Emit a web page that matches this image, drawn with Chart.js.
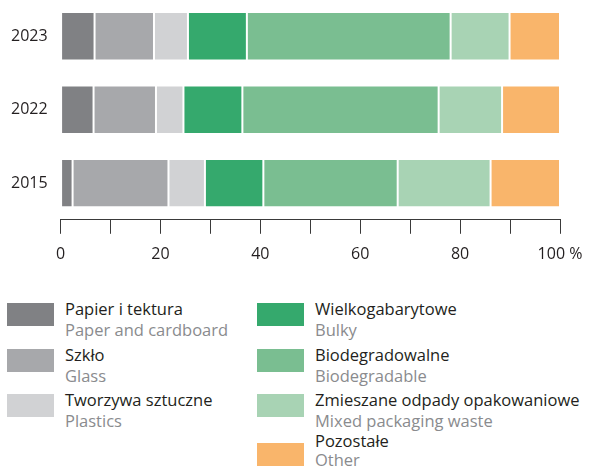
<!DOCTYPE html>
<html>
<head>
<meta charset="utf-8">
<script src="https://cdn.jsdelivr.net/npm/chart.js@4.4.1/dist/chart.umd.min.js"></script>
<style>
  body { margin: 0; background: #fff; font-family: "Open Sans", sans-serif; overflow: hidden; }
  #wrap { position: relative; width: 595px; height: 469px; overflow: hidden; }
  #chartBox { position: absolute; left: 0; top: -10px; width: 595px; height: 285px; }
  .item { position: absolute; }
  .sw { position: absolute; left: 0; top: 0; width: 47px; height: 23px; }
  .txt { position: absolute; left: 58px; font-size: 16.5px; white-space: nowrap; }
  .pl { color: #231f20; }
  .en { color: #8a8b8e; }
</style>
</head>
<body>
<div id="wrap">
  <div id="chartBox"><canvas id="myChart"></canvas></div>
  <div id="legend"></div>
</div>
<script>
const years = ['2023', '2022', '2015'];
const namesPl = ['Papier i tektura', 'Szkło', 'Tworzywa sztuczne', 'Wielkogabarytowe', 'Biodegradowalne', 'Zmieszane odpady opakowaniowe', 'Pozostałe'];
const namesEn = ['Paper and cardboard', 'Glass', 'Plastics', 'Bulky', 'Biodegradable', 'Mixed packaging waste', 'Other'];
const colors = ['#808184', '#a7a8ab', '#d1d2d4', '#35a96d', '#7abe91', '#a8d3b4', '#f9b56b'];

// shares in %, order: 2023, 2022, 2015
const paper = [6.8, 6.6, 2.4];
const glass = [11.9, 12.5, 19.2];
const plastics = [6.8, 5.5, 7.3];
const bulky = [11.8, 11.8, 11.7];
const bio = [40.8, 39.3, 26.9];
const mixed = [11.8, 12.7, 18.6];
const other = [10.1, 11.6, 13.9];
const xTicks = [0, 20, 40, 60, 80, 100];

const series = [paper, glass, plastics, bulky, bio, mixed, other];

const ctx = document.getElementById('myChart').getContext('2d');
const myChart = new Chart(ctx, {
  type: 'bar',
  data: {
    labels: years,
    datasets: series.map((d, i) => ({
      label: namesPl[i],
      data: d,
      backgroundColor: colors[i],
      borderColor: 'rgba(255,255,255,0.55)',
      borderWidth: 1,
      borderSkipped: false
    }))
  },
  options: {
    indexAxis: 'y',
    responsive: true,
    maintainAspectRatio: false,
    animation: false,
    layout: { padding: { left: 11, right: 35, top: 0, bottom: 0 } },
    plugins: { legend: { display: false }, tooltip: { enabled: false } },
    datasets: { bar: { categoryPercentage: 1, barPercentage: 0.66 } },
    scales: {
      x: {
        stacked: true,
        min: 0,
        max: 100,
        grid: { drawOnChartArea: false, drawTicks: true, tickLength: 14, color: '#3a3a3a', lineWidth: 1 },
        border: { display: true, color: '#3a3a3a', width: 1 },
        ticks: {
          stepSize: 10,
          autoSkip: false,
          maxRotation: 0,
          padding: 11,
          color: '#231f20',
          font: { family: '"Open Sans", sans-serif', size: 16 },
          callback: v => xTicks.includes(v) ? (v === 100 ? '100 %' : String(v)) : ''
        }
      },
      y: {
        stacked: true,
        grid: { display: false, drawTicks: true, tickLength: 13 },
        border: { display: false },
        ticks: {
          padding: 0,
          color: '#231f20',
          font: { family: '"Open Sans", sans-serif', size: 16 }
        }
      }
    }
  }
});

// legend: [left, top of swatch, text offset, line height]
const legendPos = [
  [7, 303, -5, 21], [7, 349, -5, 21], [7, 394, -5, 21],
  [257, 303, -5, 21], [257, 349, -5, 21], [257, 394, -5, 21], [257, 443, -12, 19]
];
const legend = document.getElementById('legend');
namesPl.forEach((n, i) => {
  const p = legendPos[i];
  const it = document.createElement('div');
  it.className = 'item';
  it.style.left = p[0] + 'px';
  it.style.top = p[1] + 'px';
  it.innerHTML = '<div class="sw" style="background:' + colors[i] + '"></div>' +
    '<div class="txt" style="top:' + p[2] + 'px;line-height:' + p[3] + 'px">' +
    '<div class="pl">' + n + '</div><div class="en">' + namesEn[i] + '</div></div>';
  legend.appendChild(it);
});
</script>
</body>
</html>
